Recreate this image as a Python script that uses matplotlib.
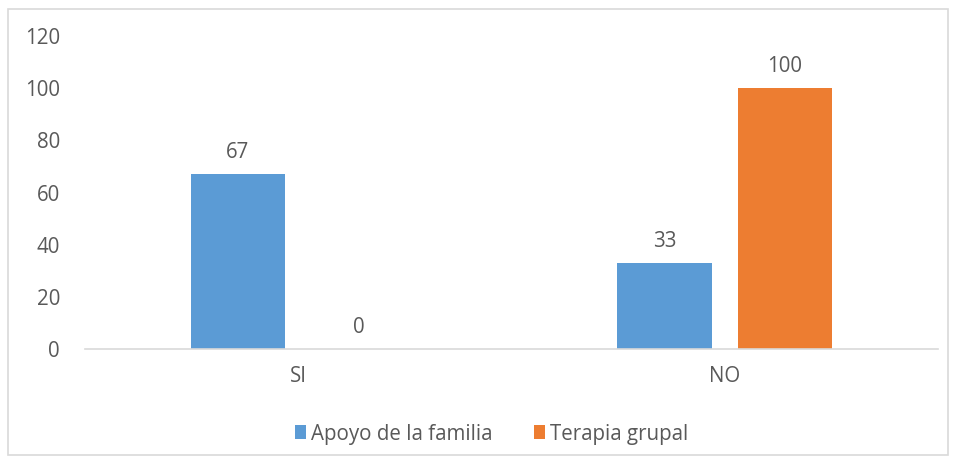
import matplotlib
matplotlib.use("Agg")
import matplotlib.pyplot as plt
import numpy as np
from matplotlib.patches import Rectangle

categories = ["SI", "NO"]
series_names = ["Apoyo de la familia", "Terapia grupal"]
apoyo = [67, 33]
terapia = [0, 100]
yticks = [0, 20, 40, 60, 80, 100, 120]

plt.rcParams['font.family'] = ['Open Sans', 'DejaVu Sans']
txt = "#595959"
fs = 14.8

fig = plt.figure(figsize=(9.56, 4.65), dpi=100)
fig.patches.append(Rectangle((8/956, 10/465), 940/956, 446/465, transform=fig.transFigure,
                             fill=False, edgecolor="#D9D9D9", linewidth=1.2))
ax = fig.add_axes([85/956, 1 - 349/465, 853/956, 313/465])

x = np.arange(len(categories))
w = 0.222
gap = 0.061
b1 = ax.bar(x - (w + gap) / 2, apoyo, w, color="#5B9BD5", label=series_names[0])
b2 = ax.bar(x + (w + gap) / 2, terapia, w, color="#ED7D31", label=series_names[1])
for bars, vals in ((b1, apoyo), (b2, terapia)):
    for r, v in zip(bars, vals):
        ax.annotate(str(v), (r.get_x() + r.get_width() / 2, v), xytext=(0, 8),
                    textcoords="offset points", ha="center", va="bottom",
                    fontsize=fs, color=txt)

ax.set_xlim(-0.5, 1.5)
ax.set_ylim(0, 120)
ax.set_yticks(yticks)
ax.set_xticks(x)
ax.set_xticklabels(categories)
ax.tick_params(axis="both", length=0, labelsize=fs, labelcolor=txt)
ax.tick_params(axis="x", pad=12)
ax.tick_params(axis="y", pad=18)
for s in ("top", "right", "left"):
    ax.spines[s].set_visible(False)
ax.spines["bottom"].set_color("#D9D9D9")
ax.spines["bottom"].set_linewidth(1.2)

leg = fig.legend(handles=[b1, b2], loc="center", bbox_to_anchor=(0.514, 1 - 434/465),
                 ncol=2, frameon=False, fontsize=fs, handlelength=0.55, handleheight=0.65,
                 handletextpad=0.25, columnspacing=2.0)
for t in leg.get_texts():
    t.set_color(txt)

fig.savefig("out.png", dpi=100)
